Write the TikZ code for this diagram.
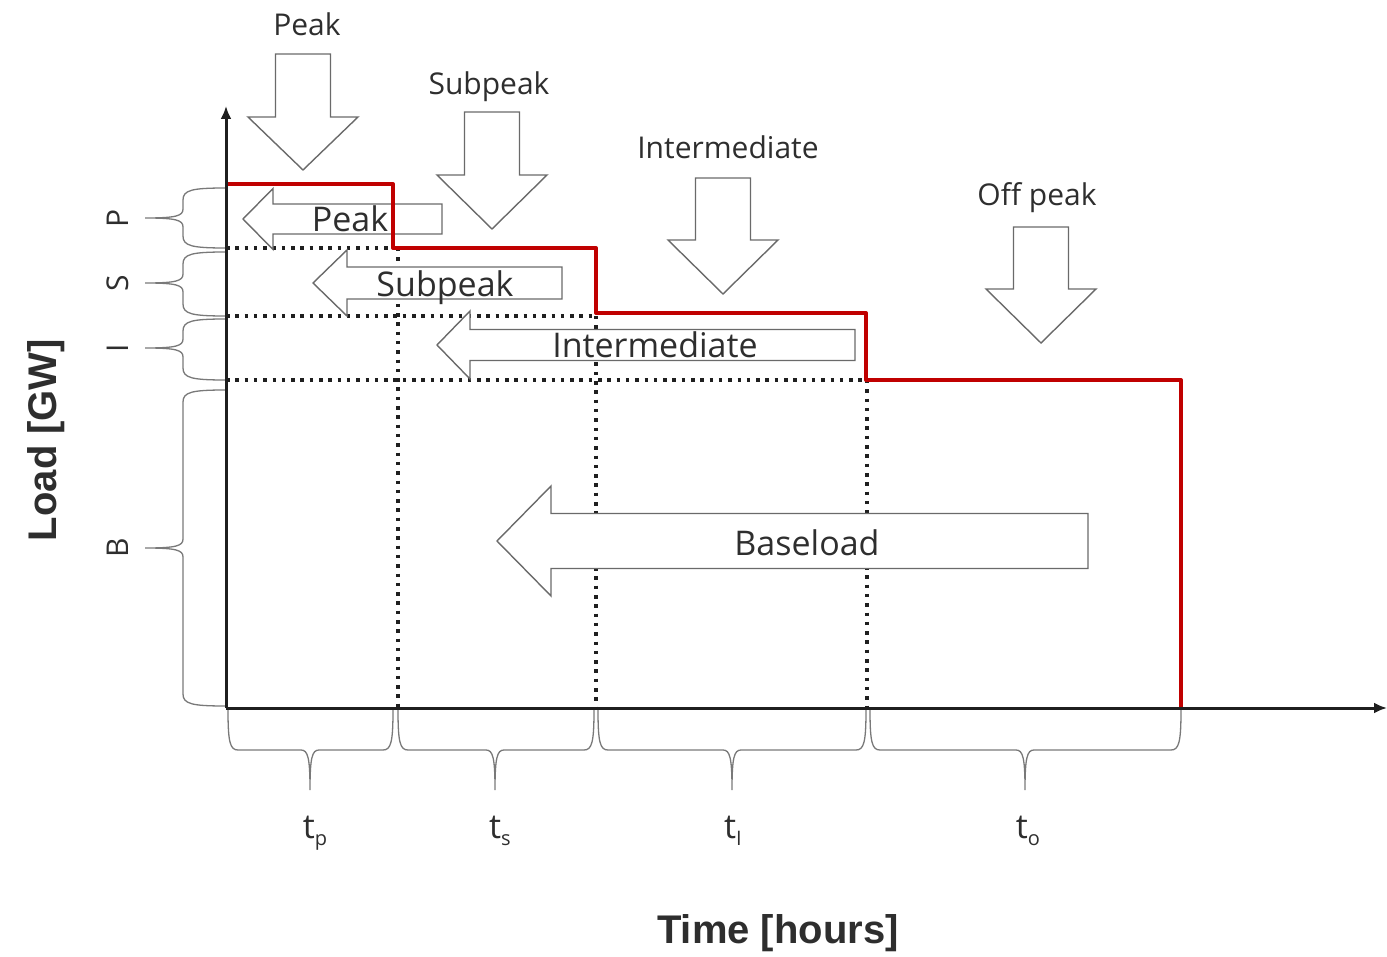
\documentclass[tikz,border=0pt]{standalone}
\usepackage{fontspec}
\setmainfont{Open Sans}
\newfontfamily\axfont{Liberation Sans}
\usetikzlibrary{arrows.meta}
\definecolor{redline}{HTML}{C00000}
\definecolor{outl}{HTML}{6A6A6A}
\definecolor{txt}{HTML}{2E2E2E}
\newcommand{\dnarr}[4]{% cx, top, headY, tipY
  \draw[arrshape] (#1-27.5,#2) -- (#1+27.5,#2) -- (#1+27.5,#3) -- (#1+55,#3) -- (#1,#4) -- (#1-55,#3) -- (#1-27.5,#3) -- cycle;}
\newcommand{\lfarr}[6]{% tipx, cy, basex, headhalf, boxhalf, rightx
  \draw[arrshape] (#1,#2) -- (#3,#2-#4) -- (#3,#2-#5) -- (#6,#2-#5) -- (#6,#2+#5) -- (#3,#2+#5) -- (#3,#2+#4) -- cycle;}
\newcommand{\vbr}[3]{% ya, ym, yb
  \draw[brc] (226,#1) .. controls (192,#1) and (183,#1+2) .. (183,#1+12) -- (183,#2-9) .. controls (183,#2-2) and (176,#2) .. (145,#2) .. controls (176,#2) and (183,#2+2) .. (183,#2+9) -- (183,#3-12) .. controls (183,#3-2) and (192,#3) .. (226,#3);}
\newcommand{\hbr}[3]{% xa, xm, xb
  \draw[brc] (#1,710) .. controls (#1,742) and (#1+2,750) .. (#1+10,750) -- (#2-9,750) .. controls (#2-2,750) and (#2,758) .. (#2,790) .. controls (#2,758) and (#2+2,750) .. (#2+9,750) -- (#3-10,750) .. controls (#3-2,750) and (#3,742) .. (#3,710);}
\begin{document}
\begin{tikzpicture}[x=1pt,y=-1pt,
  arrshape/.style={draw=outl,line width=1.4pt,fill=white,line join=miter},
  dots/.style={line width=3.5pt,dash pattern=on 3.5pt off 5.8pt,black!88},
  brc/.style={draw=outl!90,line width=1.3pt},
  toplbl/.style={font=\fontsize{30}{36}\selectfont,text=txt,inner sep=0,anchor=base},
  boxlbl/.style={font=\fontsize{34}{40}\selectfont,text=txt,inner sep=0,anchor=base},
  sidelbl/.style={font=\fontsize{30}{36}\selectfont,text=txt,inner sep=0,rotate=90},
  tlbl/.style={font=\fontsize{34}{40}\selectfont,text=txt,inner sep=0,anchor=base},
  axlbl/.style={font=\axfont\bfseries\fontsize{40}{48}\selectfont,text=txt,inner sep=0},
  axis/.style={line width=3pt,black!88,-{Latex[length=13pt,width=11pt]}},
  load/.style={line width=4pt,redline,line join=round}]
\useasboundingbox (0,0) rectangle (1387,957);
% dotted guide lines
\draw[dots] (226,248) -- (393,248);
\draw[dots] (226,316) -- (596,316);
\draw[dots] (226,380) -- (866,380);
\draw[dots] (398,248) -- (398,708);
\draw[dots] (596,316) -- (596,708);
\draw[dots] (867,380) -- (867,708);
% top down arrows
\dnarr{303}{54}{117}{170}
\dnarr{492}{112}{175}{229}
\dnarr{723}{178}{240}{294}
\dnarr{1041}{227}{289}{343}
\node[toplbl] (tpeak) at (307,36) {Peak};
\node[toplbl] (tsub) at (489,95) {Subpeak};
\node[toplbl] (tint) at (728,159) {Intermediate};
\node[toplbl] (toff) at (1037,206) {Off peak};
% left arrows
\lfarr{243}{219}{273}{30.5}{15}{442}
\lfarr{313}{283}{347}{33}{16}{562}
\lfarr{437}{345}{470}{34}{15.5}{855}
\lfarr{497}{541}{551}{55}{27.5}{1088}
\node[boxlbl] (bpeak) at (350,232) {Peak};
\node[boxlbl] (bsub) at (445,297) {Subpeak};
\node[boxlbl] (bint) at (655,358) {Intermediate};
\node[boxlbl] (bbase) at (807,555) {Baseload};
% braces
\vbr{188}{218}{248}
\vbr{252}{283}{316}
\vbr{319}{348}{380}
\vbr{390}{548}{706}
\hbr{228}{310}{393}
\hbr{398}{495}{594}
\hbr{598}{732}{866}
\hbr{870}{1025}{1181}
\node[sidelbl] (lp) at (118,218) {P};
\node[sidelbl] (ls) at (118,283) {S};
\node[sidelbl] (li) at (118,348) {I};
\node[sidelbl] (lb) at (118,548) {B};
\node[tlbl] (ltp) at (315,838) {t\raisebox{-7pt}{\fontsize{20}{24}\selectfont p}};
\node[tlbl] (lts) at (500,838) {t\raisebox{-7pt}{\fontsize{20}{24}\selectfont s}};
\node[tlbl] (lti) at (733,838) {t\raisebox{-7pt}{\fontsize{20}{24}\selectfont I}};
\node[tlbl] (lto) at (1028,838) {t\raisebox{-7pt}{\fontsize{20}{24}\selectfont o}};
% load curve
\draw[load] (226,184) -- (393,184) -- (393,248) -- (596,248) -- (596,313) -- (866,313) -- (866,380) -- (1181,380) -- (1181,708);
% axes
\coordinate (o) at (226,708);
\coordinate (ytop) at (226,106);
\coordinate (xend) at (1387,708);
\draw[axis] (o) -- (ytop);
\draw[axis] (o) -- (xend);
\node[axlbl,rotate=90] (ylab) at (46,440) {Load [GW]};
\node[axlbl] (xlab) at (778,933) {Time [hours]};
\end{tikzpicture}
\end{document}
